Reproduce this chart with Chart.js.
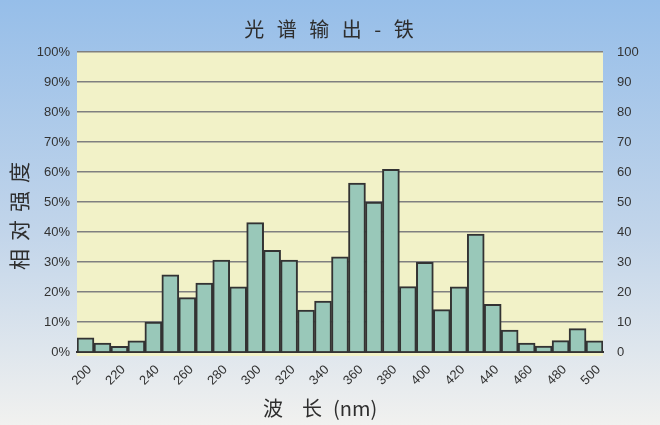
<!DOCTYPE html>
<html>
<head>
<meta charset="utf-8">
<script src="https://cdn.jsdelivr.net/npm/chart.js@4"></script>
<style>
  html, body { margin: 0; padding: 0; }
  body { width: 660px; height: 425px; overflow: hidden; }
  #wrap { width: 660px; height: 425px; }
</style>
</head>
<body>
<div id="wrap"><canvas id="spectrum"></canvas></div>
<script>
// wavelength bins (nm) and relative intensity (%)
const wavelengths = ["200", "210", "220", "230", "240", "250", "260", "270", "280", "290",
  "300", "310", "320", "330", "340", "350", "360", "370", "380", "390",
  "400", "410", "420", "430", "440", "450", "460", "470", "480", "490", "500"];
const intensity = [4.7, 3.0, 1.9, 3.7, 10.0, 25.7, 18.1, 23.0, 30.6, 21.7,
  43.1, 33.9, 30.6, 14.0, 17.0, 31.7, 56.3, 50.0, 60.9, 21.8,
  29.9, 14.1, 21.7, 39.3, 15.9, 7.3, 3.0, 2.0, 3.8, 7.8, 3.7];

const chartTitle = "光 谱 输 出 - 铁";
const yTitle = "相对强度";
const xTitleParts = ["波", "长", "(nm)"];

// page background + plot background + titles
const decor = {
  id: "decor",
  beforeDraw(chart) {
    const { ctx, chartArea: a, width, height } = chart;
    ctx.save();
    const g = ctx.createLinearGradient(0, 0, 0, height);
    g.addColorStop(0, "#96bee9");
    g.addColorStop(0.55, "#c2d5ea");
    g.addColorStop(1, "#f1f1ef");
    ctx.fillStyle = g;
    ctx.fillRect(0, 0, width, height);
    ctx.fillStyle = "#f2f2c8";
    ctx.fillRect(a.left, a.top, a.right - a.left, a.bottom - a.top + 4);
    ctx.restore();
  },
  afterDraw(chart) {
    const { ctx } = chart;
    ctx.save();
    ctx.fillStyle = "#2e2e2e";
    ctx.textBaseline = "middle";
    ctx.textAlign = "center";
    ctx.font = '20px "Noto Sans CJK SC"';
    ctx.letterSpacing = "4px";
    ctx.fillText(chartTitle, 331, 29);
    ctx.letterSpacing = "0px";
    ctx.textAlign = "left";
    ctx.fillText(xTitleParts[0], 263, 408);
    ctx.fillText(xTitleParts[1], 302, 408);
    ctx.fillText(xTitleParts[2], 333, 408);
    ctx.textAlign = "center";
    ctx.translate(19, 216);
    ctx.rotate(-Math.PI / 2);
    ctx.font = '21px "Noto Sans CJK SC"';
    ctx.letterSpacing = "8px";
    ctx.fillText(yTitle, 4, 0);
    ctx.restore();
  }
};

const tickFont = { family: "'Liberation Sans', Arial, sans-serif", size: 13 };

new Chart(document.getElementById("spectrum"), {
  type: "bar",
  data: {
    labels: wavelengths,
    datasets: [{
      data: intensity,
      backgroundColor: "#99c8b9",
      borderColor: "#333333",
      borderWidth: 2,
      barPercentage: 1,
      categoryPercentage: 1
    }]
  },
  options: {
    responsive: true,
    maintainAspectRatio: false,
    animation: false,
    layout: { padding: { top: 52, left: 0, right: 0, bottom: 0 } },
    plugins: {
      legend: { display: false },
      tooltip: { enabled: false }
    },
    scales: {
      x: {
        grid: { display: false, drawTicks: false },
        border: { color: "#333", width: 2 },
        ticks: {
          color: "#333",
          font: tickFont,
          autoSkip: false,
          minRotation: 45,
          maxRotation: 45,
          padding: 10,
          labelOffset: 4,
          callback: (v, i) => (i % 2 === 0 ? wavelengths[i] : "")
        },
        afterFit: (s) => { s.height = 73; }
      },
      y: {
        position: "left",
        min: 0,
        max: 100,
        grid: { color: "#808080", lineWidth: 1.5, drawTicks: false },
        border: { display: false },
        ticks: {
          stepSize: 10,
          color: "#333",
          font: tickFont,
          padding: 7,
          callback: (v) => v + "%"
        },
        afterFit: (s) => { s.width = 77; }
      },
      y2: {
        position: "right",
        min: 0,
        max: 100,
        grid: { display: false, drawTicks: false },
        border: { display: false },
        ticks: {
          stepSize: 10,
          color: "#333",
          font: tickFont,
          padding: 14
        },
        afterFit: (s) => { s.width = 57; }
      }
    }
  },
  plugins: [decor]
});
</script>
</body>
</html>
